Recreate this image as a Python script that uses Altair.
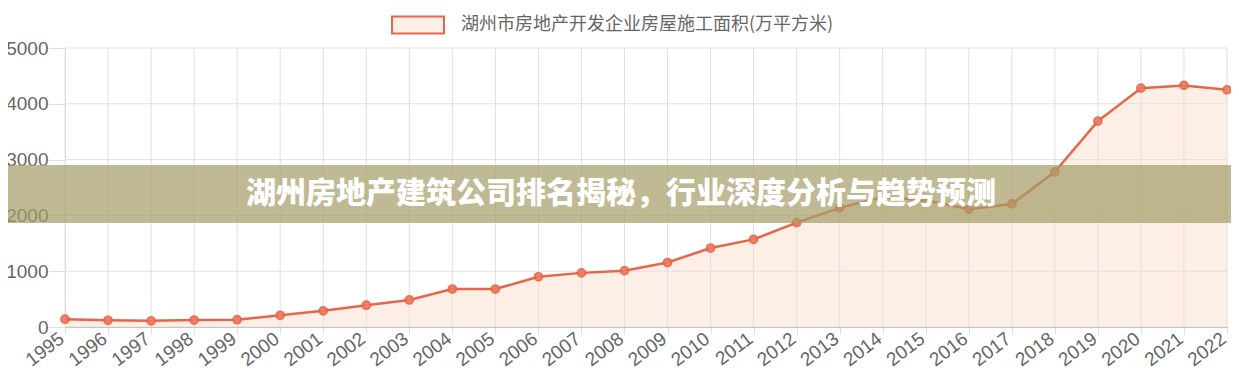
import altair as alt
import pandas as pd

years = [str(y) for y in range(1995, 2023)]
values = [140, 120, 110, 125, 130, 210, 290, 390, 485, 680, 680, 900, 970, 1010,
          1155, 1415, 1570, 1870, 2135, 2330, 2270, 2110, 2205, 2780, 3690, 4280, 4330, 4250]
y_ticks = [0, 1000, 2000, 3000, 4000, 5000]
series_name = "湖州市房地产开发企业房屋施工面积(万平方米)"
banner_title = "湖州房地产建筑公司排名揭秘，行业深度分析与趋势预测"

df = pd.DataFrame({"year": years, "value": values, "series": series_name})
ticks_df = pd.DataFrame({"value": y_ticks})

LINE = "#e5664a"
FILL = "#fdefe6"
GRID = "#e0e0e0"
LAB = "#666666"
W, H = 1162, 279

xscale = alt.Scale(type="point", padding=0)
yscale = alt.Scale(domain=[0, 5000], nice=False)

x_enc = alt.X("year:O", scale=xscale,
              axis=alt.Axis(title=None, labelAngle=-37, labelAlign="right",
                            labelBaseline="alphabetic",
                            labelFontSize=19, labelColor=LAB,
                            labelFont="Liberation Sans", grid=False,
                            tickColor=GRID, tickSize=7, labelPadding=7,
                            domainColor="#a8a8a8", labelOverlap=False, labelBound=False))
y_enc = alt.Y("value:Q", scale=yscale,
              axis=alt.Axis(title=None, values=y_ticks, format="d",
                            labelFontSize=19, labelColor=LAB, labelFont="Liberation Sans",
                            grid=False, tickColor=GRID, tickSize=16,
                            labelPadding=1, domainColor=GRID))

base = alt.Chart(df)

area = base.mark_area(opacity=1).encode(
    x=x_enc, y=y_enc,
    color=alt.Color("series:N", scale=alt.Scale(range=[FILL]),
                    legend=alt.Legend(title=None, orient="none", legendX=326, legendY=-50,
                                      symbolType="M-1,-0.33H1V0.33H-1Z", symbolSize=2704,
                                      symbolStrokeColor=LINE, symbolStrokeWidth=2,
                                      symbolOpacity=1,
                                      labelFont="Noto Sans CJK SC", labelFontSize=18,
                                      labelColor=LAB, labelOffset=16, padding=0,
                                      labelLimit=600))
)
vgrid = base.mark_rule(color=GRID, strokeWidth=1).encode(
    x=alt.X("year:O", scale=xscale), y=alt.value(0), y2=alt.value(H))
hgrid = alt.Chart(ticks_df).mark_rule(color=GRID, strokeWidth=1).encode(
    y=alt.Y("value:Q", scale=yscale), x=alt.value(0), x2=alt.value(W))
line = base.mark_line(color=LINE, strokeWidth=2.5).encode(x=x_enc, y=y_enc)
pts = base.mark_circle(size=60, color="#ee7b5f", opacity=0.9, stroke=LINE,
                       strokeWidth=2).encode(x=x_enc, y=y_enc)

banner_df = pd.DataFrame({"t": [banner_title]})
banner = alt.Chart(banner_df).mark_rect(color="#a49c66", opacity=0.7).encode(
    x=alt.value(-57), x2=alt.value(W + 4), y=alt.value(117), y2=alt.value(175))
banner_text = alt.Chart(banner_df).mark_text(
    color="white", fontSize=30, fontWeight=900, font="Noto Sans CJK SC",
    align="center", baseline="middle").encode(
    x=alt.value(556), y=alt.value(146), text="t:N")

chart = alt.layer(area, vgrid, hgrid, line, pts, banner, banner_text).properties(
    width=W, height=H,
    autosize=alt.AutoSizeParams(type="none"),
    padding={"left": 57, "top": 40, "right": 4, "bottom": 50},
).configure_view(stroke=None)

chart.save("out.html", embed_options={"renderer": "svg", "actions": False})
